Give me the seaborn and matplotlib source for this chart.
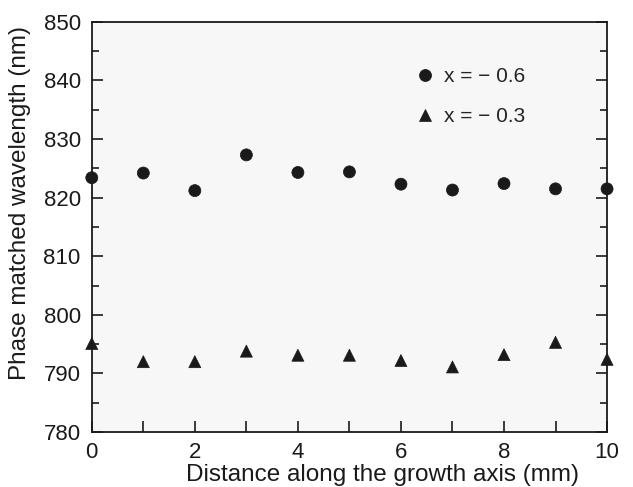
import matplotlib
matplotlib.use("Agg")
import matplotlib.pyplot as plt
import seaborn as sns
import pandas as pd
from matplotlib.ticker import MultipleLocator

sns.set_theme(style="ticks")
plt.rcParams['font.family'] = ['Liberation Sans', 'DejaVu Sans']

distance = [0, 1, 2, 3, 4, 5, 6, 7, 8, 9, 10]
wl_x06 = [823.4, 824.2, 821.2, 827.3, 824.3, 824.4, 822.3, 821.3, 822.4, 821.5, 821.5]
wl_x03 = [795.1, 792.0, 792.0, 793.8, 793.1, 793.1, 792.2, 791.1, 793.2, 795.3, 792.4]
labels = ["x = \u2212 0.6", "x = \u2212 0.3"]

df = pd.DataFrame({
    "d": distance * 2,
    "wl": wl_x06 + wl_x03,
    "series": [labels[0]] * len(distance) + [labels[1]] * len(distance),
})

fig = plt.figure(figsize=(6.33, 4.87), dpi=100)
ax = fig.add_axes([0.145, 0.113, 0.814, 0.842])
ax.set_facecolor("#f7f7f7")

sns.scatterplot(data=df, x="d", y="wl", style="series",
                markers={labels[0]: "o", labels[1]: "^"},
                color="#1a1a1a", s=75, edgecolor="#1a1a1a", linewidth=0.5,
                clip_on=False, zorder=5, ax=ax, legend=True)

ax.set_xlim(0, 10)
ax.set_ylim(780, 850)
ax.xaxis.set_major_locator(MultipleLocator(2))
ax.xaxis.set_minor_locator(MultipleLocator(1))
ax.yaxis.set_major_locator(MultipleLocator(10))
ax.yaxis.set_minor_locator(MultipleLocator(5))
ax.tick_params(axis="both", which="both", direction="in", colors="#1a1a1a",
               labelsize=16, width=1.2)
ax.tick_params(axis="x", which="both", length=8, top=False, pad=7)
ax.tick_params(axis="y", which="major", length=8, right=True, pad=8)
ax.tick_params(axis="y", which="minor", length=5, right=True)
for sp in ax.spines.values():
    sp.set_color("#1a1a1a")
    sp.set_linewidth(1.3)

ax.set_xlabel("Distance along the growth axis (mm)", fontsize=17.5, color="#1a1a1a")
ax.set_ylabel("Phase matched wavelength (nm)", fontsize=17.5, color="#1a1a1a")
ax.xaxis.set_label_coords(0.565, -0.078)
ax.yaxis.set_label_coords(-0.117, 0.559)

leg = ax.legend(loc="upper left", bbox_to_anchor=(0.577, 0.935), frameon=False,
                fontsize=15, handletextpad=0.15, handlelength=1.6,
                labelspacing=1.0, markerscale=1.0)
leg.set_title(None)

fig.savefig("out.png", dpi=100, facecolor="white")
